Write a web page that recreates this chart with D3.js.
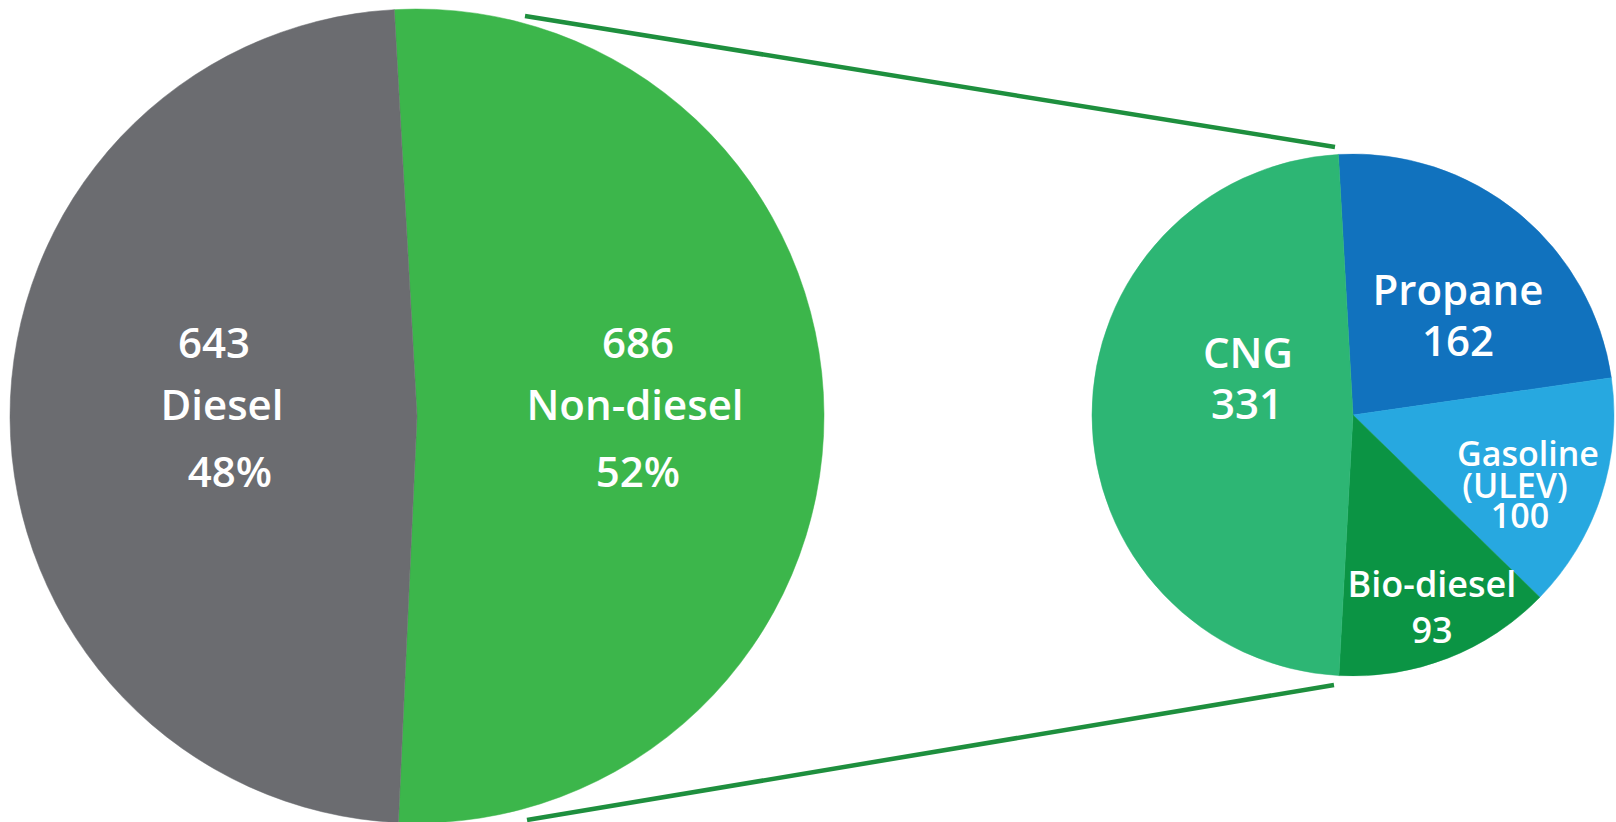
<!DOCTYPE html>
<html>
<head>
<meta charset="utf-8">
<script src="https://cdn.jsdelivr.net/npm/d3@7"></script>
<style>
  html, body { margin: 0; padding: 0; background: #ffffff; }
  svg { display: block; }
  text { font-family: "Open Sans", "DejaVu Sans", sans-serif; font-weight: 600; fill: #ffffff; }
</style>
</head>
<body>
<svg id="chart" width="1616" height="822"></svg>
<script>
// ---- data ----
const mainCategories = ["Non-diesel", "Diesel"];
const mainValues = [686, 643];
const subCategories = ["Propane", "Gasoline (ULEV)", "Bio-diesel", "CNG"];
const subValues = [162, 100, 93, 331];

// ---- styles / layout ----
const mainColors = ["#3cb64b", "#6b6c70"];
const subColors = ["#1172be", "#27a8e0", "#0b9444", "#2db674"];
const startDeg = -3.2;
const leftPie = { cx: 417, cy: 416, r: 407 };
const rightPie = { cx: 1353, cy: 415, r: 261 };

const svg = d3.select("#chart");
const toRad = d => d * Math.PI / 180;

function drawPie(cfg, cats, vals, colors) {
  const data = cats.map((c, i) => ({ name: c, value: vals[i], color: colors[i] }));
  const pie = d3.pie().sort(null).value(d => d.value)
    .startAngle(toRad(startDeg)).endAngle(toRad(startDeg) + 2 * Math.PI);
  const arc = d3.arc().innerRadius(0).outerRadius(cfg.r);
  const g = svg.append("g").attr("transform", `translate(${cfg.cx},${cfg.cy})`);
  g.selectAll("path").data(pie(data)).join("path")
    .attr("d", arc).attr("fill", d => d.data.color)
    .attr("stroke", d => d.data.color).attr("stroke-width", 0.5);
  return g;
}

// connector lines (behind the pies)
const connectorColor = "#1e8f3e";
const connectors = [
  [[525, 16], [1335, 147]],
  [[527, 820], [1334, 685]]
];
svg.append("g").selectAll("line").data(connectors).join("line")
  .attr("x1", d => d[0][0]).attr("y1", d => d[0][1])
  .attr("x2", d => d[1][0]).attr("y2", d => d[1][1])
  .attr("stroke", connectorColor).attr("stroke-width", 4.5);

drawPie(leftPie, mainCategories, mainValues, mainColors);
drawPie(rightPie, subCategories, subValues, subColors);

const total = d3.sum(mainValues);
const pct = v => Math.round(v / total * 100) + "%";

// label layout: [x, baselineY], fontSize
const labels = [
  { lines: [String(mainValues[1]), mainCategories[1], pct(mainValues[1])],
    pos: [[214, 358], [222, 420], [230, 487]], size: 42 },
  { lines: [String(mainValues[0]), mainCategories[0], pct(mainValues[0])],
    pos: [[638, 358], [635, 420], [638, 487]], size: 42 },
  { lines: ["Propane", String(subValues[0])],
    pos: [[1458, 305], [1458, 356]], size: 42 },
  { lines: ["CNG", String(subValues[3])],
    pos: [[1248, 368], [1247, 419]], size: 42 },
  { lines: ["Gasoline", "(ULEV)", String(subValues[1])],
    pos: [[1528, 466], [1515, 498], [1520, 528]], size: 34 },
  { lines: ["Bio-diesel", String(subValues[2])],
    pos: [[1432, 597], [1432, 643]], size: 36 }
];

const lg = svg.append("g");
labels.forEach(l => {
  l.lines.forEach((t, i) => {
    lg.append("text")
      .attr("x", l.pos[i][0]).attr("y", l.pos[i][1])
      .attr("text-anchor", "middle")
      .attr("font-size", l.size)
      .text(t);
  });
});
</script>
</body>
</html>
